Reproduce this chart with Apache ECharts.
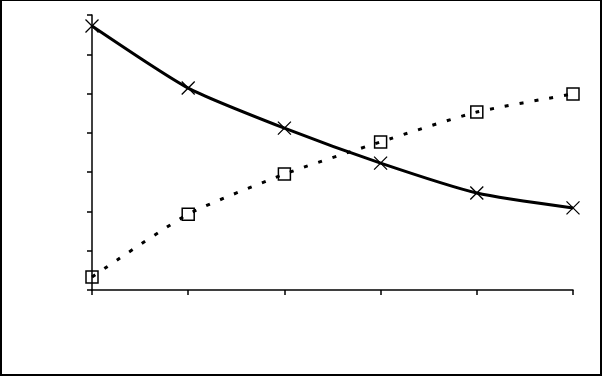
<!DOCTYPE html>
<html>
<head>
<meta charset="utf-8">
<script src="https://cdn.jsdelivr.net/npm/echarts@6/dist/echarts.min.js"></script>
<style>
html,body{margin:0;padding:0;background:#fff;}
#frame{position:absolute;left:0;top:0;width:602px;height:376px;box-sizing:border-box;border-style:solid;border-color:#000;border-width:1px 2px 2px 2px;}
#chart{position:absolute;left:0;top:0;width:602px;height:376px;}
</style>
</head>
<body>
<div id="chart"></div>
<div id="frame"></div>
<script>
const categories = ['1', '2', '3', '4', '5', '6'];
const crossValues = [6.72, 5.14, 4.12, 3.23, 2.47, 2.09];
const squareValues = [0.33, 1.93, 2.95, 3.77, 4.53, 4.99];
const yTicks = { min: 0, max: 7, interval: 1 };

const chart = echarts.init(document.getElementById('chart'), null, { renderer: 'canvas' });
chart.setOption({
  animation: false,
  backgroundColor: '#fff',
  grid: { left: 92, right: 29, top: 15, bottom: 86, containLabel: false },
  xAxis: {
    type: 'category',
    data: categories,
    boundaryGap: false,
    axisLine: { show: true, lineStyle: { color: '#000', width: 1.5 } },
    axisTick: { show: true, inside: false, length: 5, alignWithLabel: true, interval: 0, lineStyle: { color: '#000', width: 1.5 } },
    axisLabel: { show: false },
    splitLine: { show: false }
  },
  yAxis: {
    type: 'value',
    min: yTicks.min, max: yTicks.max, interval: yTicks.interval,
    axisLine: { show: true, lineStyle: { color: '#000', width: 1.5 } },
    axisTick: { show: true, inside: false, length: 5, lineStyle: { color: '#000', width: 1.5 } },
    axisLabel: { show: false },
    splitLine: { show: false }
  },
  series: [
    {
      type: 'line',
      data: crossValues,
      smooth: 0.2,
      symbol: 'path://M0,0L12,12M12,0L0,12',
      symbolSize: 13,
      showSymbol: true,
      lineStyle: { color: '#000', width: 3 },
      itemStyle: { color: 'none', borderColor: '#000', borderWidth: 1.3 },
      z: 3
    },
    {
      type: 'line',
      data: squareValues,
      smooth: 0.2,
      symbol: 'rect',
      symbolSize: 12,
      showSymbol: true,
      lineStyle: { color: '#000', width: 3, type: [4, 11], cap: 'butt' },
      itemStyle: { color: 'rgba(0,0,0,0)', borderColor: '#000', borderWidth: 1.5 },
      z: 2
    }
  ]
});
</script>
</body>
</html>
